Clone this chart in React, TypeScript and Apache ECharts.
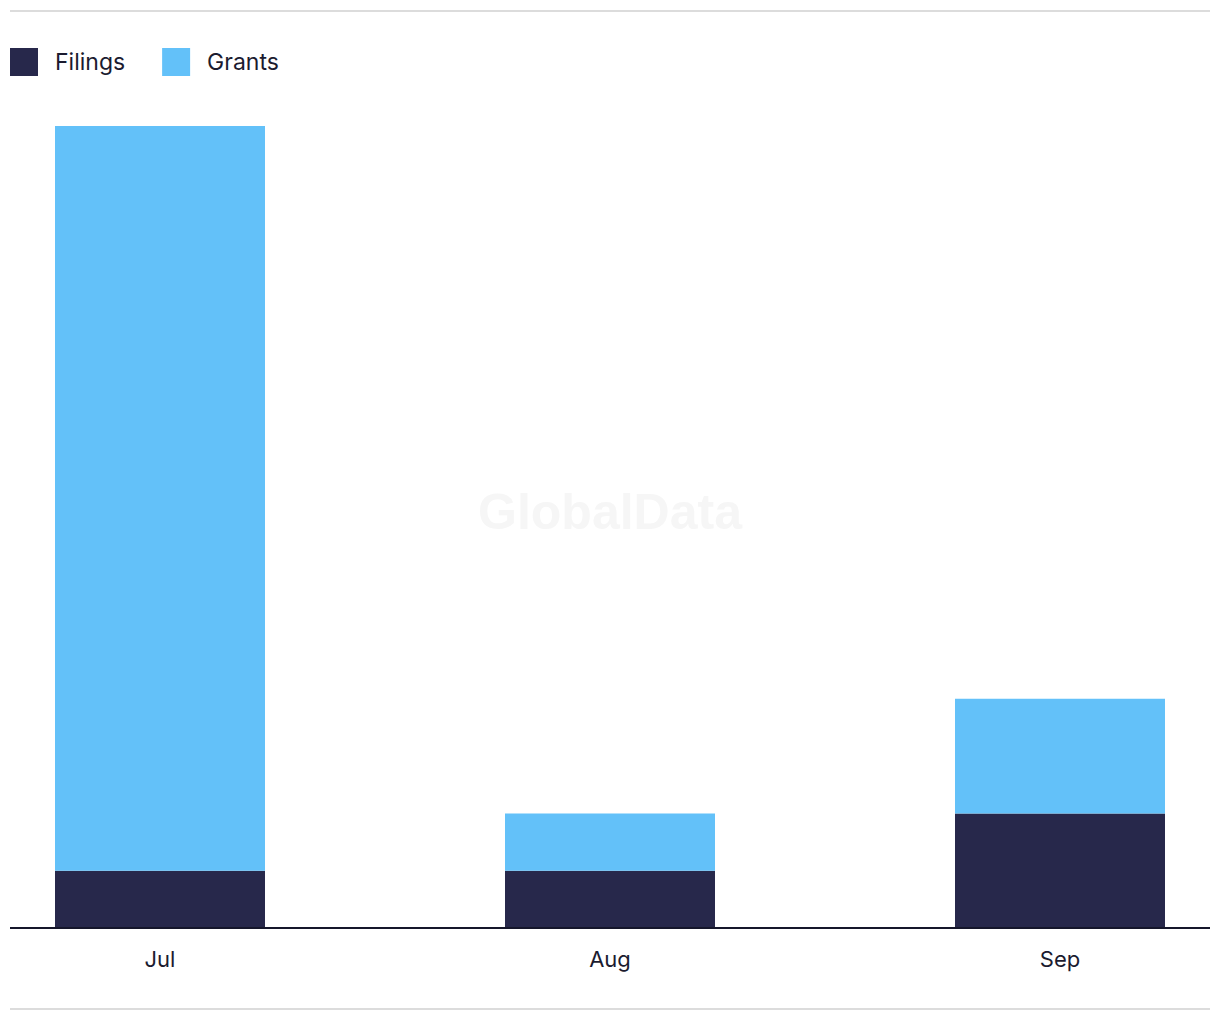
import React, { useEffect, useRef } from "react";
import * as echarts from "echarts";

const categories = ["Jul", "Aug", "Sep"];
const filings = [1, 1, 2];
const grants = [13, 1, 2];
const seriesNames = ["Filings", "Grants"];

export default function App() {
  const ref = useRef<HTMLDivElement>(null);
  useEffect(() => {
    if (!ref.current) return;
    const chart = echarts.init(ref.current, null, { renderer: "svg" });
    const font = "Inter, 'Open Sans', sans-serif";
    chart.setOption({
      animation: false,
      legend: {
        left: 10,
        top: 48,
        padding: 0,
        itemWidth: 28,
        itemHeight: 28,
        itemGap: 37,
        icon: "rect",
        data: seriesNames,
        textStyle: {
          fontSize: 23,
          color: "#1b1b2f",
          fontFamily: font,
          padding: [0, 0, 0, 12],
        },
      },
      grid: { left: 160, right: 160, top: 126, bottom: 92 },
      xAxis: {
        type: "category",
        data: categories,
        boundaryGap: false,
        axisLine: { show: false },
        axisTick: { show: false },
        axisLabel: {
          fontSize: 22,
          color: "#1b1b2f",
          fontFamily: font,
          margin: 20,
        },
      },
      yAxis: {
        type: "value",
        min: 0,
        max: 14,
        show: false,
        splitLine: { show: false },
      },
      graphic: [
        {
          type: "line",
          shape: { x1: 10, y1: 11, x2: 1210, y2: 11 },
          style: { stroke: "#dcdcdc", lineWidth: 2 },
        },
        {
          type: "line",
          shape: { x1: 10, y1: 1009, x2: 1210, y2: 1009 },
          style: { stroke: "#dcdcdc", lineWidth: 2 },
        },
        {
          type: "line",
          shape: { x1: 10, y1: 928, x2: 1210, y2: 928 },
          style: { stroke: "#15162b", lineWidth: 2 },
          z: 10,
        },
        {
          type: "text",
          x: 610,
          y: 512,
          style: {
            text: "GlobalData",
            fontSize: 50,
            fontWeight: "bold",
            fontFamily: "'Liberation Sans', Arial, sans-serif",
            fill: "#f6f6f6",
            align: "center",
            verticalAlign: "middle",
          },
          z: -1,
        },
      ],
      series: [
        {
          name: "Filings",
          type: "bar",
          stack: "total",
          data: filings,
          barWidth: 210,
          clip: false,
          itemStyle: { color: "#27284b" },
        },
        {
          name: "Grants",
          type: "bar",
          stack: "total",
          data: grants,
          barWidth: 210,
          clip: false,
          itemStyle: { color: "#63c1f9" },
        },
      ],
    });
    return () => chart.dispose();
  }, []);
  return (
    <div
      ref={ref}
      style={{ position: "absolute", left: 0, top: 0, width: 1220, height: 1020, background: "#fff" }}
    />
  );
}
